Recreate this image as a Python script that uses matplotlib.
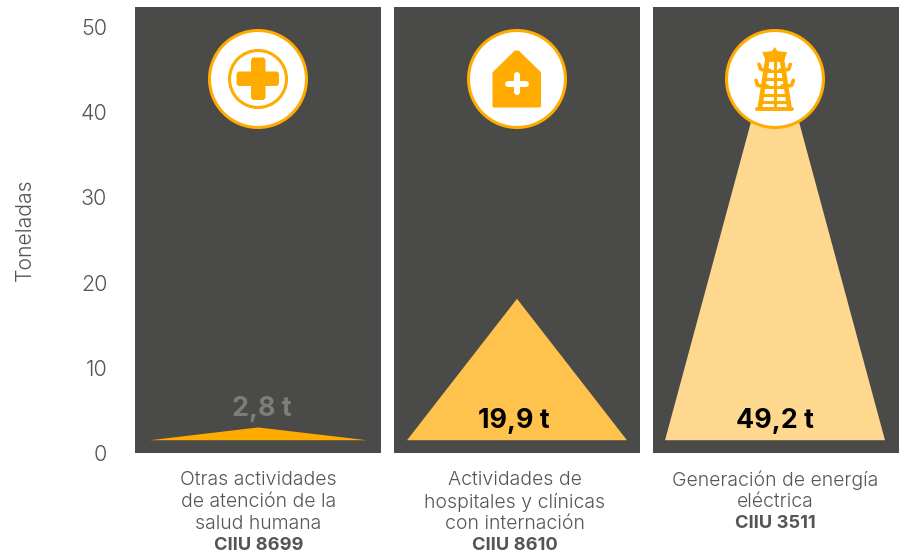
import matplotlib
matplotlib.use("Agg")
import matplotlib.pyplot as plt
from matplotlib.patches import Circle, Polygon, FancyBboxPatch

plt.rcParams['font.family'] = ['Inter', 'DejaVu Sans']

W, H = 907, 557
categories = ["Otras actividades\nde atención de la\nsalud humana",
              "Actividades de\nhospitales y clínicas\ncon internación",
              "Generación de energía\neléctrica"]
codes = ["CIIU 8699", "CIIU 8610", "CIIU 3511"]
peaks = [3.0, 18.1, 49.3]
base = [1.5, 1.5, 1.5]
value_labels = ["2,8 t", "19,9 t", "49,2 t"]
label_y = [5.2, 3.8, 3.8]
label_x = [0.515, 0.487, 0.497]
label_colors = ["#7D7D7B", "#000000", "#000000"]
tri_colors = ["#FFAB00", "#FFC34D", "#FFD88F"]
tri_left = [0.061, 0.053, 0.049]
tri_apex = [0.5, 0.5, 0.496]
tri_right = [0.943, 0.947, 0.943]
yticks = [0, 10, 20, 30, 40, 50]
panel_lefts = [135, 394, 653]
panel_w = 246
BG = "#4A4A48"
ORANGE = "#FFAB00"
TXT = "#555555"

fig = plt.figure(figsize=(W/100, H/100), dpi=100, facecolor="white")
axes = []
for i, left in enumerate(panel_lefts):
    ax = fig.add_axes([left/W, 1-453/H, panel_w/W, 446/H], facecolor=BG)
    ax.set_xlim(0, 1)
    ax.set_ylim(0, 52.35)
    ax.set_xticks([])
    for s in ax.spines.values():
        s.set_visible(False)
    if i == 0:
        ax.set_yticks(yticks)
        ax.tick_params(axis='y', length=0, pad=20, labelsize=15.5, labelcolor=TXT)
        for t in ax.get_yticklabels():
            t.set_fontweight(300)
    else:
        ax.set_yticks([])
    ax.add_patch(Polygon([(tri_left[i], base[i]), (tri_apex[i], peaks[i]), (tri_right[i], base[i])],
                         closed=True, fc=tri_colors[i], ec="none"))
    ax.text(label_x[i], label_y[i], value_labels[i], ha='center', va='center', fontsize=19.3,
            fontweight='bold', color=label_colors[i])
    axes.append(ax)

fig.text(25/W, 1-229.5/H, "Toneladas", rotation=90, ha='center', va='center',
         fontsize=15.3, color=TXT, fontweight=300)

# overlay in pixel coordinates for icons and labels
ov = fig.add_axes([0, 0, 1, 1], facecolor="none")
ov.set_xlim(0, W)
ov.set_ylim(H, 0)
ov.axis("off")

cat_x = [258.5, 514.5, 775.5]
for x, cat, code in zip(cat_x, categories, codes):
    lines = cat.split("\n")
    y = 480
    for ln in lines:
        ov.text(x, y, ln, ha='center', va='center', fontsize=14, color=TXT, fontweight=300)
        y += 22
    ov.text(x, y, code, ha='center', va='center', fontsize=13.2, color=TXT, fontweight='bold')

# icon circles
centers = [(258, 79), (517, 79), (775, 79)]
for (cx, cy) in centers:
    ov.add_patch(Circle((cx, cy), 48.5, fc="white", ec=ORANGE, lw=2.2, zorder=3))

def line(xs, ys, c=ORANGE, w=2.0, cap='round', z=4):
    ov.plot(xs, ys, color=c, lw=w, solid_capstyle=cap, solid_joinstyle='round', zorder=z)

# icon 1
ov.add_patch(Circle((258, 79), 28.5, fc="none", ec=ORANGE, lw=2.2, zorder=4))
for (x, y, w, h) in [(236.5, 71.5, 42.5, 14.5), (251, 57.5, 14.5, 42.5)]:
    ov.add_patch(FancyBboxPatch((x+3, y+3), w-6, h-6, boxstyle="round,pad=3,rounding_size=3",
                                fc=ORANGE, ec="none", zorder=4))

# icon 2
ov.add_patch(Polygon([(494, 106), (494, 73), (515.5, 52), (518, 52), (539.5, 73), (539.5, 106)],
                     closed=True, fc=ORANGE, ec=ORANGE, lw=2.2, joinstyle='round', zorder=4))
line([508, 525.7], [83.5, 83.5], c="white", w=4.3, z=5)
line([516.7, 516.7], [74.7, 92], c="white", w=4.3, z=5)

# icon 3 (tower)
tx = 774.7
def zx(v): return 710 + v/3
def zy(v): return 10 + v/3
line([zx(140), zx(247)], [zy(296), zy(296)], w=2.8)
line([zx(172), zx(150)], [zy(150), zy(292)], w=3.4)
line([zx(216), zx(238)], [zy(150), zy(292)], w=3.4)
line([tx, tx], [zy(150), zy(292)], w=2.2)
for v in [183, 208, 232, 255, 277]:
    f = (v-150)/142
    line([zx(172-22*f), zx(216+22*f)], [zy(v), zy(v)], w=2.2, cap='butt')
ov.add_patch(Polygon([(zx(158), zy(127)), (zx(186), zy(125)), (zx(194), zy(113)), (zx(202), zy(125)),
                      (zx(230), zy(127)), (zx(220), zy(155)), (zx(170), zy(155))],
                     closed=True, fc=ORANGE, ec=ORANGE, lw=0.5, zorder=4))
for pts_x, pts_y in [([147, 152, 165, 178], [163, 178, 180, 180]),
                     ([241, 236, 225, 210], [163, 178, 180, 180]),
                     ([138, 143, 155, 172], [211, 226, 228, 228]),
                     ([250, 245, 233, 216], [211, 226, 228, 228])]:
    line([zx(v) for v in pts_x], [zy(v) for v in pts_y], w=2.6)

fig.savefig("out.png", dpi=100)
